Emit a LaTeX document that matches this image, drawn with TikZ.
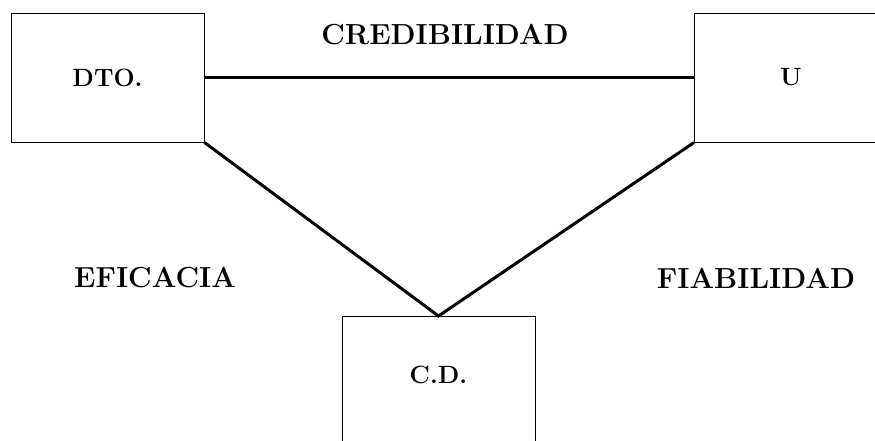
\documentclass[tikz,border=0pt]{standalone}
\usepackage{fontspec}
\usepackage{tikz}

\tikzset{every picture/.style={line width=0.75pt}}
\tikzset{
  caja/.style={draw,line width=1pt,minimum width=193pt,minimum height=129pt,inner sep=0pt,font=\fontsize{25}{29}\selectfont\bfseries},
  rotulo/.style={inner sep=0.75pt,font=\fontsize{29}{34}\selectfont\bfseries},
  enlace/.style={line width=3pt,line join=miter}
}

\begin{document}
\begin{tikzpicture}[x=1pt,y=1pt,yscale=-1,xscale=1]
	\useasboundingbox (0,0) rectangle (875,440);
	%Shape: Rectangle [id:dto]
	\node[caja] (dto) at (107.5,77.5) {DTO.};
	%Shape: Rectangle [id:u]
	\node[caja] (u) at (791,77.5) {U};
	%Shape: Rectangle [id:cd]
	\node[caja] (cd) at (438.5,381) {};
	% Text Node
	\node[font=\fontsize{25}{29}\selectfont\bfseries,inner sep=0pt] (cdtxt) at (438.5,375) {C.D.};
	%Straight Lines [id:credibilidad]
	\draw[enlace] (dto.east) -- (u.west);
	%Straight Lines [id:eficacia / fiabilidad]
	\draw[enlace] (dto.south east) -- (cd.north) -- (u.south west);

	% Text Node
	\node[rotulo] (cred) at (445,35) {CREDIBILIDAD};
	% Text Node
	\node[rotulo] (efic) at (155,278) {EFICACIA};
	% Text Node
	\node[rotulo] (fiab) at (756,278) {FIABILIDAD};
\end{tikzpicture}
\end{document}
